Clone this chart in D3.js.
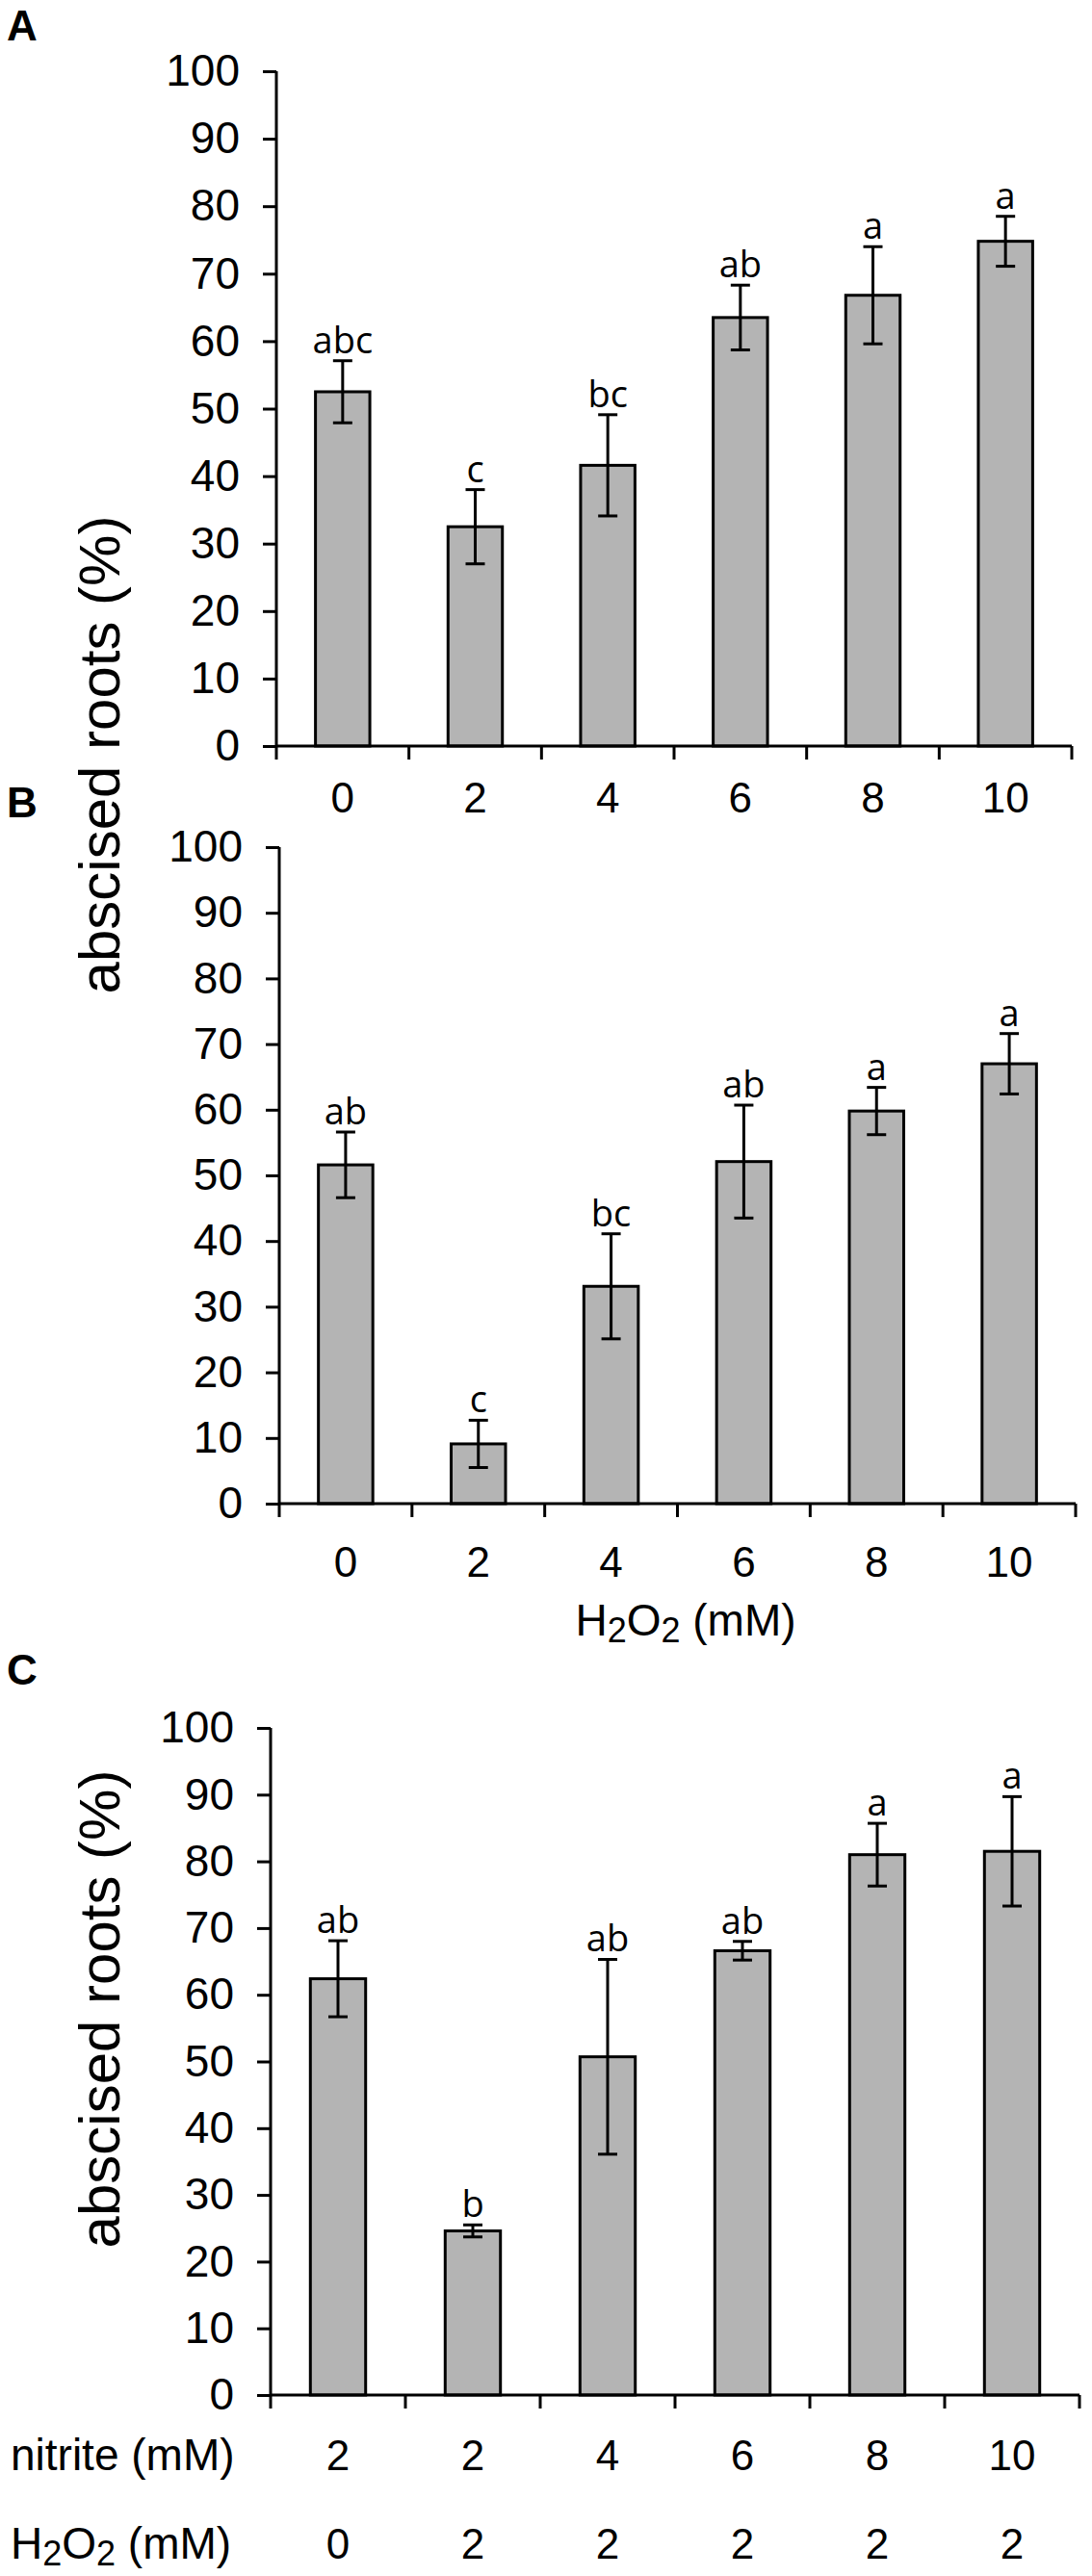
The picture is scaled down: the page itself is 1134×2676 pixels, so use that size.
<!DOCTYPE html>
<html>
<head>
<meta charset="utf-8">
<script src="https://cdn.jsdelivr.net/npm/d3@7"></script>
<style>
  body { margin: 0; background: #fff; }
  svg { display: block; }
</style>
</head>
<body>
<script>
const width = 1134;
const height = 2676;

// H2O2 series (panels A and B)
const doses = ["0", "2", "4", "6", "8", "10"];
const meansA = [52.5, 32.5, 41.6, 63.5, 66.8, 74.8];
const errA = [4.6, 5.5, 7.5, 4.8, 7.2, 3.7];
const lettersA = ["abc", "c", "bc", "ab", "a", "a"];

const meansB = [51.6, 9.1, 33.1, 52.1, 59.8, 67.0];
const errB = [5.0, 3.6, 8.0, 8.6, 3.6, 4.6];
const lettersB = ["ab", "c", "bc", "ab", "a", "a"];

// nitrite + H2O2 (panel C)
const nitrite = ["2", "2", "4", "6", "8", "10"];
const h2o2 = ["0", "2", "2", "2", "2", "2"];
const meansC = [62.4, 24.6, 50.7, 66.6, 81.0, 81.5];
const errC = [5.7, 0.9, 14.6, 1.4, 4.7, 8.2];
const lettersC = ["ab", "b", "ab", "ab", "a", "a"];

const yTicks = [0, 10, 20, 30, 40, 50, 60, 70, 80, 90, 100];

const font = "'Liberation Sans', Arial, sans-serif";
const letterFont = "'Open Sans', sans-serif";

const svg = d3.select("body").append("svg")
    .attr("width", width)
    .attr("height", height);

function drawPanel(p) {
    const keys = d3.range(p.means.length);
    const x = d3.scaleBand()
        .domain(keys)
        .range([p.x0, p.x1])
        .paddingInner(0.59)
        .paddingOuter(0.295);
    const y = d3.scaleLinear().domain([0, 100]).range([p.yb, p.yt]);

    const g = svg.append("g");

    // bars
    g.selectAll(".bar")
        .data(keys)
        .enter().append("rect")
        .attr("x", i => x(i))
        .attr("y", i => y(p.means[i]))
        .attr("width", x.bandwidth())
        .attr("height", i => y(0) - y(p.means[i]))
        .attr("fill", "#b4b4b4")
        .attr("stroke", "#000")
        .attr("stroke-width", 3);

    // error bars
    const cx = i => x(i) + x.bandwidth() / 2;
    const eb = g.selectAll(".err").data(keys).enter().append("g");
    eb.append("line")
        .attr("x1", cx).attr("x2", cx)
        .attr("y1", i => y(p.means[i] + p.errs[i]))
        .attr("y2", i => y(p.means[i] - p.errs[i]));
    eb.append("line")
        .attr("x1", i => cx(i) - 10).attr("x2", i => cx(i) + 10)
        .attr("y1", i => y(p.means[i] + p.errs[i]))
        .attr("y2", i => y(p.means[i] + p.errs[i]));
    eb.append("line")
        .attr("x1", i => cx(i) - 10).attr("x2", i => cx(i) + 10)
        .attr("y1", i => y(p.means[i] - p.errs[i]))
        .attr("y2", i => y(p.means[i] - p.errs[i]));
    eb.selectAll("line").attr("stroke", "#000").attr("stroke-width", 3);

    // significance letters
    g.selectAll(".sig")
        .data(keys)
        .enter().append("text")
        .attr("x", cx)
        .attr("y", i => y(p.means[i] + p.errs[i]) - 8)
        .attr("text-anchor", "middle")
        .attr("font-family", letterFont)
        .attr("font-size", 38)
        .text(i => p.letters[i]);

    // y axis
    const yAxis = d3.axisLeft(y).tickValues(yTicks).tickSize(14).tickPadding(24);
    const ya = g.append("g").attr("transform", `translate(${p.x0},0)`).call(yAxis);
    ya.select(".domain").attr("d", `M0,${y(0)}V${y(100)}`);
    ya.selectAll("line, path").attr("stroke", "#000").attr("stroke-width", 3);
    ya.selectAll("text").attr("font-family", font).attr("font-size", 46).attr("fill", "#000");

    // x axis line with ticks at band edges
    g.append("line")
        .attr("x1", p.x0).attr("x2", p.x1)
        .attr("y1", y(0)).attr("y2", y(0))
        .attr("stroke", "#000").attr("stroke-width", 3);
    g.selectAll(".xt")
        .data(d3.range(keys.length + 1))
        .enter().append("line")
        .attr("x1", k => p.x0 + k * x.step())
        .attr("x2", k => p.x0 + k * x.step())
        .attr("y1", y(0)).attr("y2", y(0) + 14)
        .attr("stroke", "#000").attr("stroke-width", 3);

    // category rows
    p.rows.forEach(r => {
        g.selectAll(null)
            .data(keys)
            .enter().append("text")
            .attr("x", cx)
            .attr("y", y(0) + r.dy)
            .attr("text-anchor", "middle")
            .attr("font-family", font)
            .attr("font-size", 44)
            .text(i => r.labels[i]);
    });

    // panel letter
    svg.append("text")
        .attr("x", 7).attr("y", p.tagY)
        .attr("font-family", font).attr("font-weight", "bold")
        .attr("font-size", 44)
        .text(p.tag);
    return {x, y};
}

function h2o2Label(sel) {
    sel.append("tspan").text("H");
    sel.append("tspan").attr("font-size", 36).attr("dy", 7).text("2");
    sel.append("tspan").attr("dy", -7).text("O");
    sel.append("tspan").attr("font-size", 36).attr("dy", 7).text("2");
    sel.append("tspan").attr("dy", -7).text(" (mM)");
}

drawPanel({tag: "A", tagY: 42, x0: 287, x1: 1113, yb: 775, yt: 74,
    means: meansA, errs: errA, letters: lettersA,
    rows: [{labels: doses, dy: 69}]});

drawPanel({tag: "B", tagY: 849, x0: 290, x1: 1117, yb: 1562, yt: 880,
    means: meansB, errs: errB, letters: lettersB,
    rows: [{labels: doses, dy: 76}]});

drawPanel({tag: "C", tagY: 1750, x0: 281, x1: 1121, yb: 2488, yt: 1795,
    means: meansC, errs: errC, letters: lettersC,
    rows: [{labels: nitrite, dy: 78}, {labels: h2o2, dy: 170}]});

// x titles
svg.append("text")
    .attr("x", 712).attr("y", 1699)
    .attr("text-anchor", "middle")
    .attr("font-family", font).attr("font-size", 46)
    .call(h2o2Label);

svg.append("text")
    .attr("x", 11).attr("y", 2566)
    .attr("font-family", font).attr("font-size", 46)
    .text("nitrite (mM)");

svg.append("text")
    .attr("x", 11).attr("y", 2658)
    .attr("font-family", font).attr("font-size", 46)
    .call(h2o2Label);

// y titles
[784, 2087].forEach(cy => {
    svg.append("text")
        .attr("transform", `translate(124,${cy}) rotate(-90)`)
        .attr("text-anchor", "middle")
        .attr("font-family", font).attr("font-size", 60)
        .text("abscised roots (%)");
});
</script>
</body>
</html>
